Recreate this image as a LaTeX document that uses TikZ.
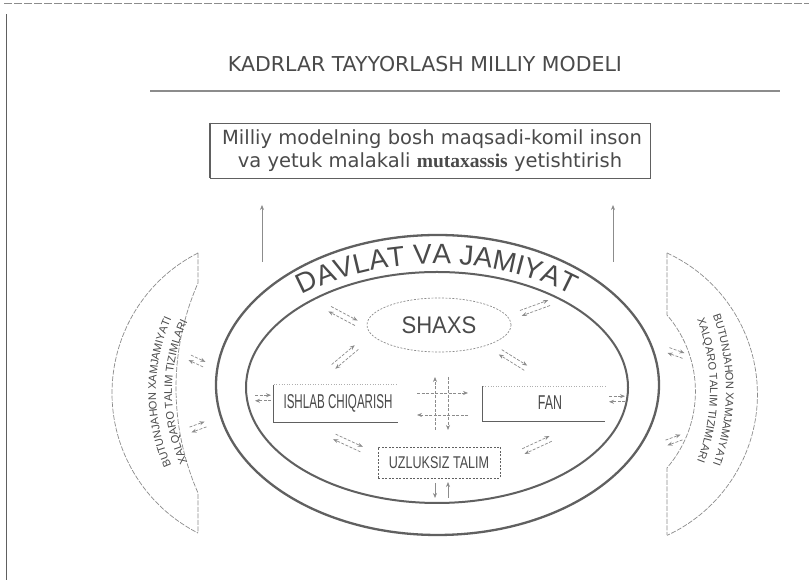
\documentclass[tikz,border=0pt]{standalone}
\usepackage{fontspec}
\setmainfont{Liberation Sans}
\newfontfamily\dvs{DejaVu Sans}
\newfontfamily\serifb{Liberation Serif}
\usetikzlibrary{arrows.meta,decorations.text,shapes.geometric}
\definecolor{ink}{HTML}{4A4A4A}
\definecolor{lin}{HTML}{606060}
\definecolor{lgt}{HTML}{8C8C8C}
\newcommand{\davfont}{\fontsize{28}{28}\selectfont\color{ink}}
\newcommand{\sidefont}{\fontsize{11}{11}\selectfont\color{ink}}
\tikzset{
  txt/.style={text=ink, inner sep=0pt},
  arr/.style={draw=lgt, line width=0.7pt, dash pattern=on 3pt off 1.5pt, -{Stealth[length=5pt,width=4pt]}},
  solidarr/.style={draw=lgt, line width=0.7pt, -{Stealth[length=5pt,width=4pt]}},
  ellline/.style={draw=lin, line width=2.3pt},
  cres/.style={draw=lgt, line width=0.7pt, dash pattern=on 5pt off 1.5pt},
  boxline/.style={draw=lin, line width=0.8pt},
  faint/.style={draw=lgt!70, line width=0.6pt, dotted},
  twoway/.pic={\draw[arr] (-15,2.8) -- (15,2.8); \draw[arr] (15,-2.8) -- (-15,-2.8);},
  twowayshort/.pic={\draw[arr] (-8,2.8) -- (8,2.8); \draw[arr] (8,-2.8) -- (-8,-2.8);}
}
\begin{document}
\begin{tikzpicture}[x=1pt,y=1pt]
\useasboundingbox (0,0) rectangle (809,580);
\fill[white] (0,0) rectangle (809,580);
% page frame remnants
\draw[lgt, line width=0.8pt, dash pattern=on 8pt off 2pt] (4,577) -- (809,577);
\draw[lin, line width=0.9pt] (6,0) -- (6,566);
% title
\node[txt, font=\dvs\fontsize{20.5}{20.5}\selectfont] (title) at (425,515.5) {KADRLAR TAYYORLASH MILLIY MODELI};
\coordinate (r1) at (150,489);
\coordinate (r2) at (780,489);
\draw[lgt, line width=1.1pt] (r1) -- (r2);
% goal box
\node[draw=lin, line width=0.8pt, minimum width=440, minimum height=55, inner sep=0pt] (goal) at (430,429.5) {};
\draw[lin, line width=2pt] (goal.north west) -- (goal.south west);
\node[txt, anchor=base, font=\dvs\fontsize{19.5}{19.5}\selectfont] (g1) at (432,435) {Milliy modelning bosh maqsadi-komil inson};
\node[txt, anchor=base, font=\dvs\fontsize{19.5}{19.5}\selectfont] (g2) at (430,412) {va yetuk malakali {\serifb\bfseries mutaxassis} yetishtirish};
\coordinate (u1) at (262,318);
\coordinate (u2) at (613,318);
\draw[solidarr] (u1) -- (262,375);
\draw[solidarr] (u2) -- (613,375);
% ellipses
\draw[ellline] (437.5,195) ellipse [x radius=221.5, y radius=150];
\draw[ellline, line width=2pt] (437,192.5) ellipse [x radius=191, y radius=115.5];
\path[decorate, decoration={text along path, text align=center, text={|\davfont|DAVLAT VA JAMIYAT}}]
  (261.2,254.5) arc[start angle=150, end angle=30, x radius=203, y radius=123];
% side crescents
\draw[cres] (198,327) arc[start angle=116.9, end angle=243.1, radius=157];
\draw[cres] (198,327) -- (198,297) arc[start angle=156.34, end angle=203.66, radius=261.6] -- (198,47);
\draw[cres] (667,327) arc[start angle=65.25, end angle=-65.25, radius=155.5];
\draw[cres] (667,327) -- (667,265) arc[start angle=40.8, end angle=-40.8, radius=117] -- (667,45);
% side texts
\path[decorate, decoration={text along path, text align=center, text={|\sidefont|BUTUNJAHON XAMJAMIYATI}}]
  (338,188) ++(220:182) arc[start angle=220, end angle=140, radius=182];
\path[decorate, decoration={text along path, text align=center, text={|\sidefont|XALQARO TALIM TIZIMLARI}}]
  (338,188) ++(220:166) arc[start angle=220, end angle=140, radius=166];
\path[decorate, decoration={text along path, text align=center, text={|\sidefont|BUTUNJAHON XAMJAMIYATI}}]
  (510,190) ++(42:216) arc[start angle=42, end angle=-42, radius=216];
\path[decorate, decoration={text along path, text align=center, text={|\sidefont|XALQARO TALIM TIZIMLARI}}]
  (510,190) ++(42:200) arc[start angle=42, end angle=-42, radius=200];
% inner nodes
\node[draw=lgt, line width=0.7pt, dash pattern=on 2pt off 1.5pt, ellipse, minimum width=144, minimum height=54] (shaxs) at (439,255) {};
\node[txt] (shaxst) at (439,255) {\scalebox{0.92}[1]{\fontsize{24}{24}\selectfont SHAXS}};
\node[minimum width=124, minimum height=37, inner sep=0pt] (ishlab) at (336,176.5) {};
\node[txt] (ishlabt) at (338,176.5) {\scalebox{0.58}[1]{\fontsize{20}{20}\selectfont ISHLAB CHIQARISH}};
\draw[boxline] (ishlab.north west) -- (ishlab.south west) -- (ishlab.south east);
\draw[faint] (ishlab.north west) -- (ishlab.north east);
\node[minimum width=122, minimum height=35, inner sep=0pt] (fan) at (544,176) {};
\node[txt] (fant) at (550,177) {\scalebox{0.62}[1]{\fontsize{20}{20}\selectfont FAN}};
\draw[boxline] (fan.north west) -- (fan.south west) -- (fan.south east);
\draw[faint] (fan.north west) -- (fan.north east);
\node[draw=lin, line width=0.7pt, dash pattern=on 2pt off 1.5pt, minimum width=122, minimum height=31, inner sep=0pt] (uz) at (439,117.5) {};
\node[txt] (uzt) at (439,117.5) {\scalebox{0.74}[1]{\fontsize{17}{17}\selectfont UZLUKSIZ TALIM}};
% cross arrows
\coordinate (c1) at (435,150); \coordinate (c2) at (435,203);
\coordinate (c3) at (448,203); \coordinate (c4) at (448,150);
\coordinate (c5) at (417,187); \coordinate (c6) at (468,187);
\coordinate (c7) at (468,165); \coordinate (c8) at (417,165);
\draw[arr] (c1) -- (c2);
\draw[arr] (c3) -- (c4);
\draw[arr] (c5) -- (c6);
\draw[arr] (c7) -- (c8);
% below uzluksiz
\draw[solidarr] (435,97) -- (435,82);
\draw[solidarr] (448,82) -- (448,98);
% diagonal pairs
\pic[rotate=-28] at (343,264) {twoway};
\pic[rotate=20] at (535,272) {twoway};
\pic[rotate=40] at (345,223) {twoway};
\pic[rotate=-32] at (513,220) {twoway};
\pic[rotate=-25] at (348,137) {twoway};
\pic[rotate=25] at (537,135) {twoway};
\pic at (263,182) {twowayshort};
\pic at (617,181) {twowayshort};
\pic[rotate=-25] at (197,219) {twowayshort};
\pic[rotate=20] at (198,153) {twowayshort};
\pic[rotate=-20] at (676,227) {twowayshort};
\pic[rotate=20] at (674,140) {twowayshort};
\end{tikzpicture}
\end{document}
